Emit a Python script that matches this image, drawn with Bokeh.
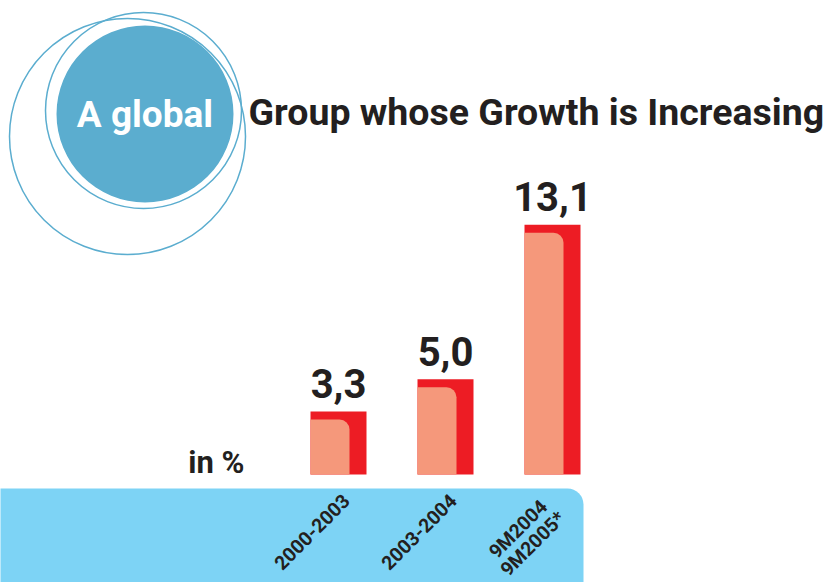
from bokeh.plotting import figure
from bokeh.models import Range1d
from bokeh.core.properties import value
from bokeh.embed import file_html
from bokeh.resources import INLINE

# ---- data ----
categories = ["2000-2003", "2003-2004", "9M2004\n9M2005*"]
growth = [3.3, 5.0, 13.1]
value_labels = ["3,3", "5,0", "13,1"]
title_left = "A global"
title_right = "Group whose Growth is Increasing"
unit_label = "in %"

# ---- layout constants (pixels) ----
W, H = 826, 582
PX_PER_UNIT = 19.06      # bar scale
BASE_FROM_BOTTOM = 108   # bar baseline distance from bottom
FIRST_BAR_X = 338
BAR_STEP = 107
BAR_W = 56
INNER_W = 39
BASELINE_FIX = 0.35      # renderer draws alphabetic text this many em lower

FONT = value("Roboto")
DARK = "#231F20"
RED = "#ED1C24"
SALMON = "#F5987B"
BLUE = "#5BADCF"
BAND = "#7DD3F5"

def base(y, size):
    return y - BASELINE_FIX * size

p = figure(width=W, height=H, output_backend="svg", toolbar_location=None,
           x_range=Range1d(0, W), y_range=Range1d(H, 0),
           x_axis_type=None, y_axis_type=None, min_border=0)
p.outline_line_color = None
p.grid.visible = False
p.background_fill_color = "white"
p.border_fill_color = "white"

# extra ranges for the bar chart
xs = -FIRST_BAR_X / BAR_STEP
p.extra_x_ranges = {"cat": Range1d(xs, xs + W / BAR_STEP)}
ys = -BASE_FROM_BOTTOM / PX_PER_UNIT
p.extra_y_ranges = {"val": Range1d(ys, ys + H / PX_PER_UNIT)}

# ---- decorative circles ----
p.circle(x=[127], y=[136], radius=118, fill_color=None, line_color=BLUE, line_width=1.5)
p.circle(x=[143], y=[110], radius=98, fill_color=None, line_color=BLUE, line_width=1.5)
p.circle(x=[144.5], y=[113.5], radius=88.5, fill_color=BLUE, line_color=None)

TS = 37
p.text(x=[144.5], y=[base(127, TS)], text=[title_left], text_color="white", text_font=FONT,
       text_font_style="bold", text_font_size=f"{TS}px", text_align="center",
       text_baseline="alphabetic")
TS2 = 37.5
p.text(x=[248], y=[base(125, TS2)], text=[title_right], text_color=DARK, text_font=FONT,
       text_font_style="bold", text_font_size=f"{TS2}px", text_align="left",
       text_baseline="alphabetic")

# ---- bottom band ----
p.quad(left=[-5], right=[583], top=[488], bottom=[590], fill_color=BAND,
       line_color=None, border_radius=(0, 16, 0, 0))

# ---- bars ----
idx = list(range(len(categories)))
bw = BAR_W / BAR_STEP
p.vbar(x=idx, top=growth, bottom=0, width=bw, fill_color=RED, line_color=None,
       x_range_name="cat", y_range_name="val")
iw = INNER_W / BAR_STEP
inner_x = [i - (BAR_W - INNER_W) / 2 / BAR_STEP for i in idx]
inner_top = [g - 8 / PX_PER_UNIT for g in growth]
p.vbar(x=inner_x, top=inner_top, bottom=0, width=iw, fill_color=SALMON, line_color=None,
       border_radius=(0, 10, 0, 0), x_range_name="cat", y_range_name="val")

# value labels (val range points up, so the fix is added)
VS = 40
lab_y = [g + (14 + BASELINE_FIX * VS) / PX_PER_UNIT for g in growth]
p.text(x=idx, y=lab_y, text=value_labels, text_color=DARK, text_font=FONT,
       text_font_style="bold", text_font_size=f"{VS}px", text_align="center",
       text_baseline="alphabetic", x_range_name="cat", y_range_name="val")

# unit label
US = 31
p.text(x=[244], y=[base(473, US)], text=[unit_label], text_color=DARK, text_font=FONT,
       text_font_style="bold", text_font_size=f"{US}px", text_align="right",
       text_baseline="alphabetic")

# category labels (rotated)
cat_x = [i - 27 / BAR_STEP for i in idx]
cat_y = [531 + 5 * c.count("\n") for c in categories]
p.text(x=cat_x, y=cat_y, text=categories, text_color=DARK, text_font=FONT,
       text_font_style="bold", text_font_size="19.5px", text_align="center",
       text_baseline="middle", angle=0.785398, text_line_height=0.9,
       x_range_name="cat")

open("out.html", "w").write(file_html(p, INLINE))
